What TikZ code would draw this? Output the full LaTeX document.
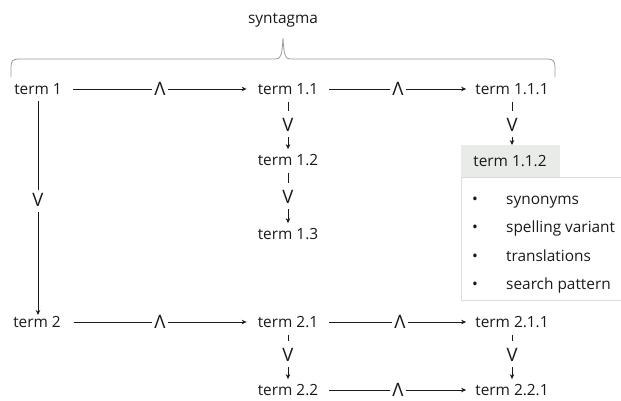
\documentclass[tikz,border=0pt]{standalone}
\usepackage{fontspec}
\setmainfont{Open Sans}
\usetikzlibrary{arrows.meta}
\definecolor{txt}{HTML}{1A1A1A}
\definecolor{boxgray}{HTML}{E9EBE9}
\definecolor{boxline}{HTML}{DCDCDC}
\definecolor{bracegray}{HTML}{9A9A9A}
\begin{document}
\begin{tikzpicture}[x=1pt,y=-1pt,
  font=\fontsize{15.4}{18}\selectfont, text=txt,
  term/.style={inner sep=0pt, anchor=center},
  op/.style={inner sep=2pt, anchor=center, font=\fontsize{18.5}{22}\selectfont},
  conn/.style={draw=txt, line width=0.8pt},
  arr/.style={conn, -{Stealth[length=5pt,width=4.5pt]}},
]
\useasboundingbox (0,0) rectangle (621,401);

% brace
\node[term] (syn) at (283,20) {syntagma};
\draw[bracegray, line width=0.8pt]
  (11,77) -- (11,67) .. controls (11,61) and (13,59) .. (19,59)
  -- (276,59) .. controls (281,59) and (282,55) .. (283,38)
  .. controls (284,55) and (285,59) .. (290,59)
  -- (547,59) .. controls (553,59) and (555,61) .. (555,67) -- (555,77);

% row 1
\node[term] (t1)   at (38,89)  {term 1};
\node[op]   (a1)   at (160,89) {Λ};
\node[term] (t11)  at (288,89) {term 1.1};
\node[op]   (a2)   at (398,89) {Λ};
\node[term] (t111) at (512,89) {term 1.1.1};
\draw[conn, shorten <=11pt] (t1) -- (a1);
\draw[arr, shorten >=11pt] (a1) -- (t11);
\draw[conn, shorten <=11pt] (t11) -- (a2);
\draw[arr, shorten >=9pt] (a2) -- (t111);

% column 1.1
\node[op]   (v11) at (288,125) {V};
\node[term] (t12) at (288,160) {term 1.2};
\node[op]   (v12) at (288,197) {V};
\node[term] (t13) at (288,234) {term 1.3};
\draw[conn, shorten <=7pt, shorten >=5pt] (t11) -- (v11);
\draw[arr, shorten <=3pt, shorten >=5pt] (v11) -- (t12);
\draw[conn, shorten <=7pt, shorten >=5pt] (t12) -- (v12);
\draw[arr, shorten <=3pt, shorten >=5pt] (v12) -- (t13);

% column 1.1.1
\node[op] (v111) at (512,125) {V};
\node[fill=boxgray, minimum width=99pt, minimum height=32pt, inner sep=0pt, anchor=north west] (t112) at (461,145) {};
\node[term] at (510,161) {term 1.1.2};
\draw[conn, shorten <=7pt, shorten >=5pt] (t111) -- (v111);
\draw[arr, shorten <=3pt] (v111) -- (t112.north -| v111);
\node[draw=boxline, line width=0.6pt, minimum width=165pt, minimum height=123pt, inner sep=0pt, anchor=north west] (list) at (461,177) {};
\foreach \yy/\tx [count=\i] in {204/synonyms, 232.5/spelling variant, 261/translations, 289.5/search pattern}{
  \node[inner sep=0pt, anchor=base] (b\i) at (475,\yy) {•};
  \node[inner sep=0pt, anchor=base west] (l\i) at (506,\yy) {\tx};
}

% column 1 down
\node[op]   (vt1) at (38,200) {V};
\node[term] (t2)  at (37,322) {term 2};
\draw[conn, shorten <=6pt, shorten >=1pt] (t1) -- (vt1);
\draw[arr, shorten <=3pt, shorten >=7pt] (vt1) -- (vt1 |- t2);

% row 2
\node[op]   (a3)   at (160,322) {Λ};
\node[term] (t21)  at (288,322) {term 2.1};
\node[op]   (a4)   at (400,322) {Λ};
\node[term] (t211) at (512,322) {term 2.1.1};
\draw[conn, shorten <=13pt] (t2) -- (a3);
\draw[arr, shorten >=11pt] (a3) -- (t21);
\draw[conn, shorten <=11pt] (t21) -- (a4);
\draw[arr, shorten >=9pt] (a4) -- (t211);

% column 2.1 / 2.1.1
\node[op]   (v21)  at (288,355) {V};
\node[term] (t22)  at (288,390) {term 2.2};
\node[op]   (v211) at (512,355) {V};
\node[term] (t221) at (512,390) {term 2.2.1};
\draw[conn, shorten <=7pt, shorten >=5pt] (t21) -- (v21);
\draw[arr, shorten <=3pt, shorten >=5pt] (v21) -- (t22);
\draw[conn, shorten <=7pt, shorten >=5pt] (t211) -- (v211);
\draw[arr, shorten <=3pt, shorten >=5pt] (v211) -- (t221);

% row 3
\node[op] (a5) at (398,390) {Λ};
\draw[conn, shorten <=11pt] (t22) -- (a5);
\draw[arr, shorten >=9pt] (a5) -- (t221);
\end{tikzpicture}
\end{document}
